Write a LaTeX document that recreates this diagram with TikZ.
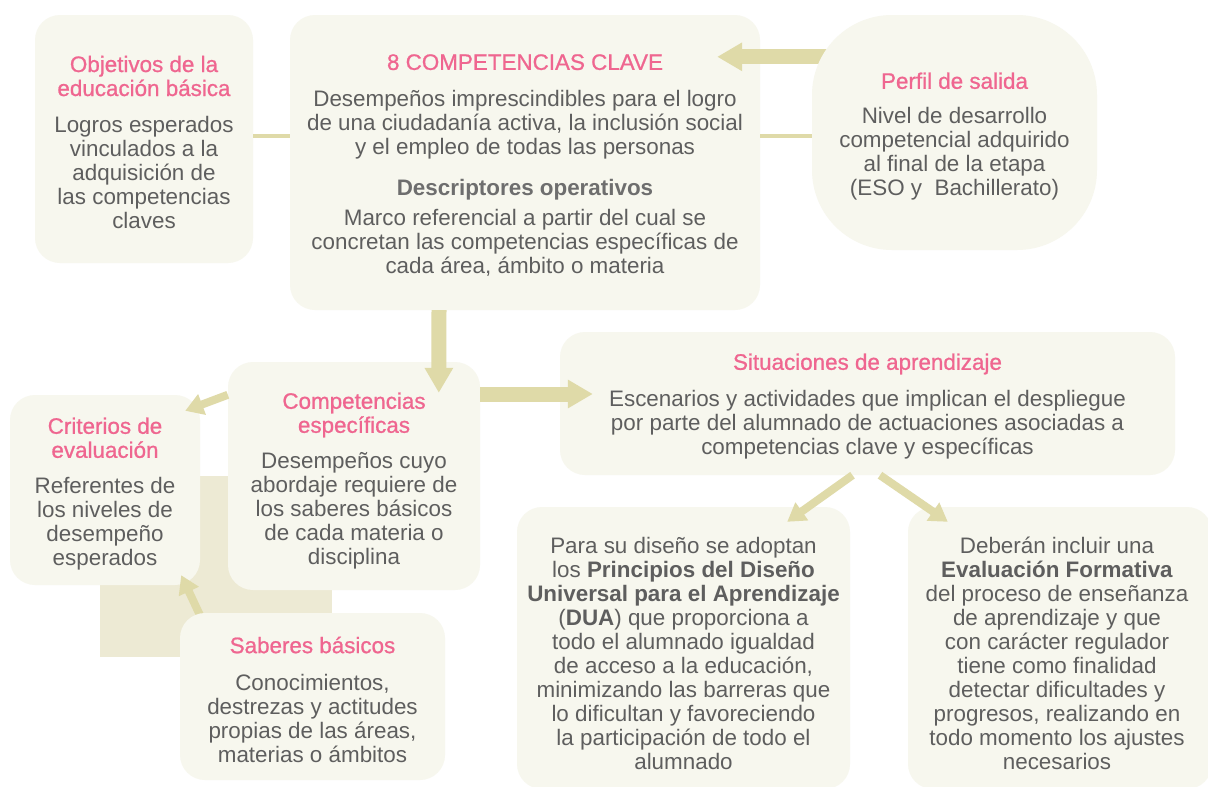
\documentclass[tikz,border=0pt]{standalone}
\usepackage{fontspec}
\setmainfont{Liberation Sans}
\newfontfamily\ttlfont[FakeBold=0.9]{Liberation Sans}
\usetikzlibrary{arrows.meta}
\definecolor{boxfill}{HTML}{F7F7EE}
\definecolor{arrowc}{HTML}{DFDAA8}
\definecolor{bgtan}{HTML}{EDEAD4}
\definecolor{pinkt}{HTML}{EF6690}
\definecolor{grayt}{HTML}{5E5E5E}
\definecolor{descg}{HTML}{6E6E6E}
\newcommand\boxtitle[1]{{\color{pinkt}\ttlfont #1}}
\pgfdeclarelayer{top}
\pgfsetlayers{main,top}
\begin{document}
\begin{tikzpicture}[x=1pt,y=-1pt,
  box/.style={fill=boxfill, rounded corners=25pt, inner sep=0pt},
  txt/.style={align=center, text=grayt, font=\fontsize{22.4}{24}\selectfont, inner sep=0pt},
  bigarrow/.style={draw=arrowc, line width=15pt, -{Triangle[length=25pt,width=27pt]}},
  smallarrow/.style={draw=arrowc, line width=8pt, -{Triangle[length=18pt,width=21pt]}},
  joinline/.style={draw=arrowc, line width=4.5pt}
]
\useasboundingbox[fill=white] (0,0) rectangle (1208,787);
% background panel
\fill[bgtan] (100,476) rectangle (332,657);

\node[box, minimum width=218pt, minimum height=248pt] (obj) at (144,139) {};
\node[txt] (objtxt) at ([yshift=-3pt]obj.center)
  {\boxtitle{Objetivos de la}\\\boxtitle{educación básica}\\[12pt]
   Logros esperados\\vinculados a la\\adquisición de\\las competencias\\claves};

\node[box, minimum width=470pt, minimum height=295pt] (cc) at (525,162.5) {};
\node[txt] (cctxt) at ([yshift=-3pt]cc.center)
  {\boxtitle{8 COMPETENCIAS CLAVE}\\[13pt]
   Desempeños imprescindibles para el logro\\de una ciudadanía activa, la inclusión social\\y el empleo de todas las personas\\[17pt]
   {\color{descg}\bfseries Descriptores operativos}\\[6pt]
   Marco referencial a partir del cual se\\concretan las competencias específicas de\\cada área, ámbito o materia};

\node[box, minimum width=252pt, minimum height=228pt] (ce) at (354,476) {};
\node[txt] (cetxt) at ([yshift=-5pt]ce.center)
  {\boxtitle{Competencias}\\\boxtitle{específicas}\\[12pt]
   Desempeños cuyo\\abordaje requiere de\\los saberes básicos\\de cada materia o\\disciplina};

\node[box, minimum width=190pt, minimum height=190pt] (crit) at (105,490) {};
\node[txt] (crittxt) at ([yshift=-4pt]crit.center)
  {\boxtitle{Criterios de}\\\boxtitle{evaluación}\\[12pt]
   Referentes de\\los niveles de\\desempeño\\esperados};

\node[box, minimum width=615pt, minimum height=143pt] (sit) at (867.5,403.5) {};
\node[txt] (sittxt) at ([yshift=-3pt]sit.center)
  {\boxtitle{Situaciones de aprendizaje}\\[13pt]
   Escenarios y actividades que implican el despliegue\\por parte del alumnado de actuaciones asociadas a\\competencias clave y específicas};

\node[box, minimum width=333pt, minimum height=282pt] (dua) at (683.5,648) {};
\node[txt] (duatxt) at ([yshift=-5pt]dua.center)
  {Para su diseño se adoptan\\los \textbf{Principios del Diseño}\\\textbf{Universal para el Aprendizaje}\\(\textbf{DUA}) que proporciona a\\todo el alumnado igualdad\\de acceso a la educación,\\minimizando las barreras que\\lo dificultan y favoreciendo\\la participación de todo el\\alumnado};

\node[box, minimum width=304pt, minimum height=282pt] (eval) at (1060,648) {};
\node[txt] (evaltxt) at ([shift={(-3,5)}]eval.center)
  {Deberán incluir una\\\textbf{Evaluación Formativa}\\del proceso de enseñanza\\de aprendizaje y que\\con carácter regulador\\tiene como finalidad\\detectar dificultades y\\progresos, realizando en\\todo momento los ajustes\\necesarios};

\begin{pgfonlayer}{top}
\node[box, rounded corners=80pt, minimum width=285pt, minimum height=235pt] (perfil) at (954.5,132.5) {};
\node[txt] (perfiltxt) at ([yshift=-4pt]perfil.center)
  {\boxtitle{Perfil de salida}\\[11pt]
   Nivel de desarrollo\\competencial adquirido\\al final de la etapa\\(ESO y~ Bachillerato)};

\node[box, minimum width=265pt, minimum height=167pt] (sab) at (312.5,696.5) {};
\node[txt] (sabtxt) at ([yshift=-3pt]sab.center)
  {\boxtitle{Saberes básicos}\\[13pt]
   Conocimientos,\\destrezas y actitudes\\propias de las áreas,\\materias o ámbitos};
\end{pgfonlayer}

% connectors
\draw[joinline] ([yshift=3pt]obj.east) -- ([yshift=3pt]obj.east -| cc.west);
\draw[joinline] ([yshift=26.5pt]cc.east) -- ([yshift=26.5pt]cc.east -| perfil.west);
\draw[bigarrow] ([shift={(25,42)}]perfil.north west) -- ([shift={(-43,42)}]cc.north east);
\draw[bigarrow] ([xshift=-86pt]cc.south) -- ([shift={(211,31)}]ce.north west);
\draw[bigarrow] ([yshift=82pt]ce.east) -- ([shift={(33,-9.5)}]sit.west);
\draw[smallarrow] ([yshift=-33pt]ce.north west) -- ([shift={(-15,16)}]crit.north east);
\draw[smallarrow] ([shift={(20,2)}]sab.north west) -- ([shift={(-19,-10)}]crit.south east);
\draw[smallarrow] ([xshift=-15pt]sit.south) -- ([shift={(-63,15)}]dua.north east);
\draw[smallarrow] ([xshift=12.5pt]sit.south) -- ([shift={(40,15)}]eval.north west);
\end{tikzpicture}
\end{document}
